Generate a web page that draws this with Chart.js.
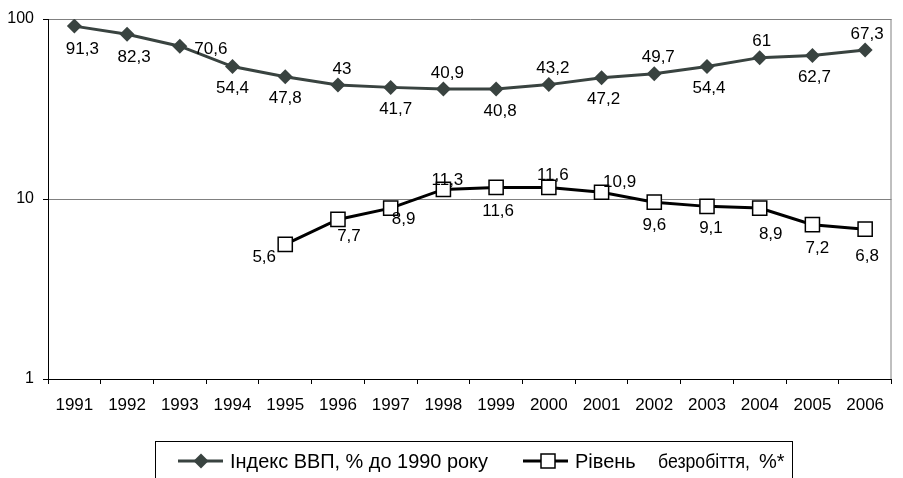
<!DOCTYPE html>
<html>
<head>
<meta charset="utf-8">
<script src="https://cdn.jsdelivr.net/npm/chart.js@4"></script>
<style>
  body { margin: 0; background: #fff; }
  canvas { display: block; }
</style>
</head>
<body>
<canvas id="chart" width="903" height="478"></canvas>
<script>
const years = ['1991','1992','1993','1994','1995','1996','1997','1998','1999','2000','2001','2002','2003','2004','2005','2006'];
const gdpIndex = [91.3, 82.3, 70.6, 54.4, 47.8, 43, 41.7, 40.9, 40.8, 43.2, 47.2, 49.7, 54.4, 61, 62.7, 67.3];
const unemployment = [null, null, null, null, 5.6, 7.7, 8.9, 11.3, 11.6, 11.6, 10.9, 9.6, 9.1, 8.9, 7.2, 6.8];
const yTicks = [1, 10, 100];
const gdpName = 'Індекс ВВП, % до 1990 року';
const unempNameParts = ['Рівень', 'безробіття,', '%*'];

// where each value label sits relative to its point [dx, dy]
const gdpLabelPos = [[8,23],[7,23],[31,3],[0,22],[0,22],[4,-16],[5,22],[4,-16],[4,22],[4,-16],[2,22],[4,-16],[2,22],[2,-16],[2,22],[2,-16]];
const unempLabelPos = [null,null,null,null,[-21,13],[11,17],[13,11],[4,-9],[2,24],[4,-12],[18,-10],[0,23],[4,22],[11,26],[5,24],[2,27]];

const FONT = '"Liberation Sans", Arial, sans-serif';
const GDP_COLOR = '#394340';

const fmt = v => String(v).replace('.', ',');

const labelsPlugin = {
  id: 'valueLabels',
  afterDatasetsDraw(chart) {
    const ctx = chart.ctx;
    ctx.save();
    ctx.font = '17px ' + FONT;
    ctx.fillStyle = '#000';
    ctx.textAlign = 'center';
    ctx.textBaseline = 'middle';
    [[0, gdpIndex, gdpLabelPos], [1, unemployment, unempLabelPos]].forEach(([i, vals, pos]) => {
      chart.getDatasetMeta(i).data.forEach((pt, j) => {
        if (vals[j] == null) return;
        const [dx, dy] = pos[j];
        ctx.fillText(fmt(vals[j]), pt.x + dx, pt.y + dy);
      });
    });
    ctx.restore();
  }
};

const framePlugin = {
  id: 'frameAndLegend',
  beforeDatasetsDraw(chart) {
    const { ctx, chartArea: a } = chart;
    ctx.save();
    ctx.strokeStyle = '#808080';
    ctx.lineWidth = 1;
    ctx.beginPath();
    ctx.moveTo(a.right - 0.5, a.top);
    ctx.lineTo(a.right - 0.5, a.bottom);
    ctx.stroke();
    ctx.restore();
  },
  afterDraw(chart) {
    const ctx = chart.ctx;
    ctx.save();
    ctx.strokeStyle = '#000';
    ctx.lineWidth = 1;
    ctx.strokeRect(155.5, 441.5, 637, 40);
    const y = 461;
    // GDP sample
    ctx.strokeStyle = GDP_COLOR;
    ctx.lineWidth = 3;
    ctx.beginPath(); ctx.moveTo(178, y); ctx.lineTo(223, y); ctx.stroke();
    ctx.fillStyle = GDP_COLOR;
    ctx.beginPath();
    ctx.moveTo(201, y - 7.5); ctx.lineTo(208.5, y); ctx.lineTo(201, y + 7.5); ctx.lineTo(193.5, y);
    ctx.closePath(); ctx.fill();
    // unemployment sample
    ctx.strokeStyle = '#000';
    ctx.beginPath(); ctx.moveTo(523, y); ctx.lineTo(568, y); ctx.stroke();
    ctx.fillStyle = '#fff';
    ctx.lineWidth = 1.5;
    ctx.fillRect(541, y - 7, 14, 14);
    ctx.strokeRect(541, y - 7, 14, 14);
    ctx.fillStyle = '#000';
    ctx.font = '20px ' + FONT;
    ctx.textBaseline = 'middle';
    ctx.textAlign = 'left';
    ctx.fillText(gdpName, 230, y + 1, 258);
    ctx.fillText(unempNameParts[0], 575, y + 1, 68);
    ctx.fillText(unempNameParts[1], 658, y + 1, 92);
    ctx.fillText(unempNameParts[2], 759, y + 1);
    ctx.restore();
  }
};

new Chart(document.getElementById('chart'), {
  type: 'line',
  data: {
    labels: years,
    datasets: [{
      label: gdpName,
      data: gdpIndex,
      borderColor: GDP_COLOR,
      backgroundColor: GDP_COLOR,
      borderWidth: 3,
      pointStyle: 'rectRot',
      pointRadius: 7.5,
      pointBorderWidth: 0,
      tension: 0
    }, {
      label: unempNameParts.join(' '),
      data: unemployment,
      borderColor: '#000',
      backgroundColor: '#fff',
      borderWidth: 3,
      pointStyle: 'rect',
      pointRadius: 10,
      pointBorderWidth: 1.5,
      pointBorderColor: '#000',
      pointBackgroundColor: '#fff',
      spanGaps: false,
      tension: 0
    }]
  },
  options: {
    responsive: false,
    animation: false,
    layout: { padding: { top: 19, right: 5, left: 0, bottom: 0 } },
    plugins: { legend: { display: false }, tooltip: { enabled: false } },
    scales: {
      x: {
        offset: true,
        border: { color: '#000', width: 1 },
        grid: { offset: true, drawOnChartArea: false, drawTicks: true, tickLength: 5, tickColor: '#000' },
        ticks: { color: '#000', font: { family: FONT, size: 17 }, padding: 11, maxRotation: 0, autoSkip: false },
        afterFit: s => { s.height = 99; }
      },
      y: {
        type: 'logarithmic',
        min: 1,
        max: 100,
        border: { color: '#000', width: 1 },
        grid: {
          color: c => (c.tick && c.tick.value === 1 ? 'rgba(0,0,0,0)' : '#808080'),
          tickColor: '#000',
          tickLength: 5,
          drawTicks: true
        },
        afterBuildTicks: s => { s.ticks = yTicks.map(v => ({ value: v })); },
        ticks: { color: '#000', font: { family: FONT, size: 16 }, padding: 9, callback: v => String(v) },
        afterFit: s => { s.width = 48; }
      }
    }
  },
  plugins: [framePlugin, labelsPlugin]
});
</script>
</body>
</html>
